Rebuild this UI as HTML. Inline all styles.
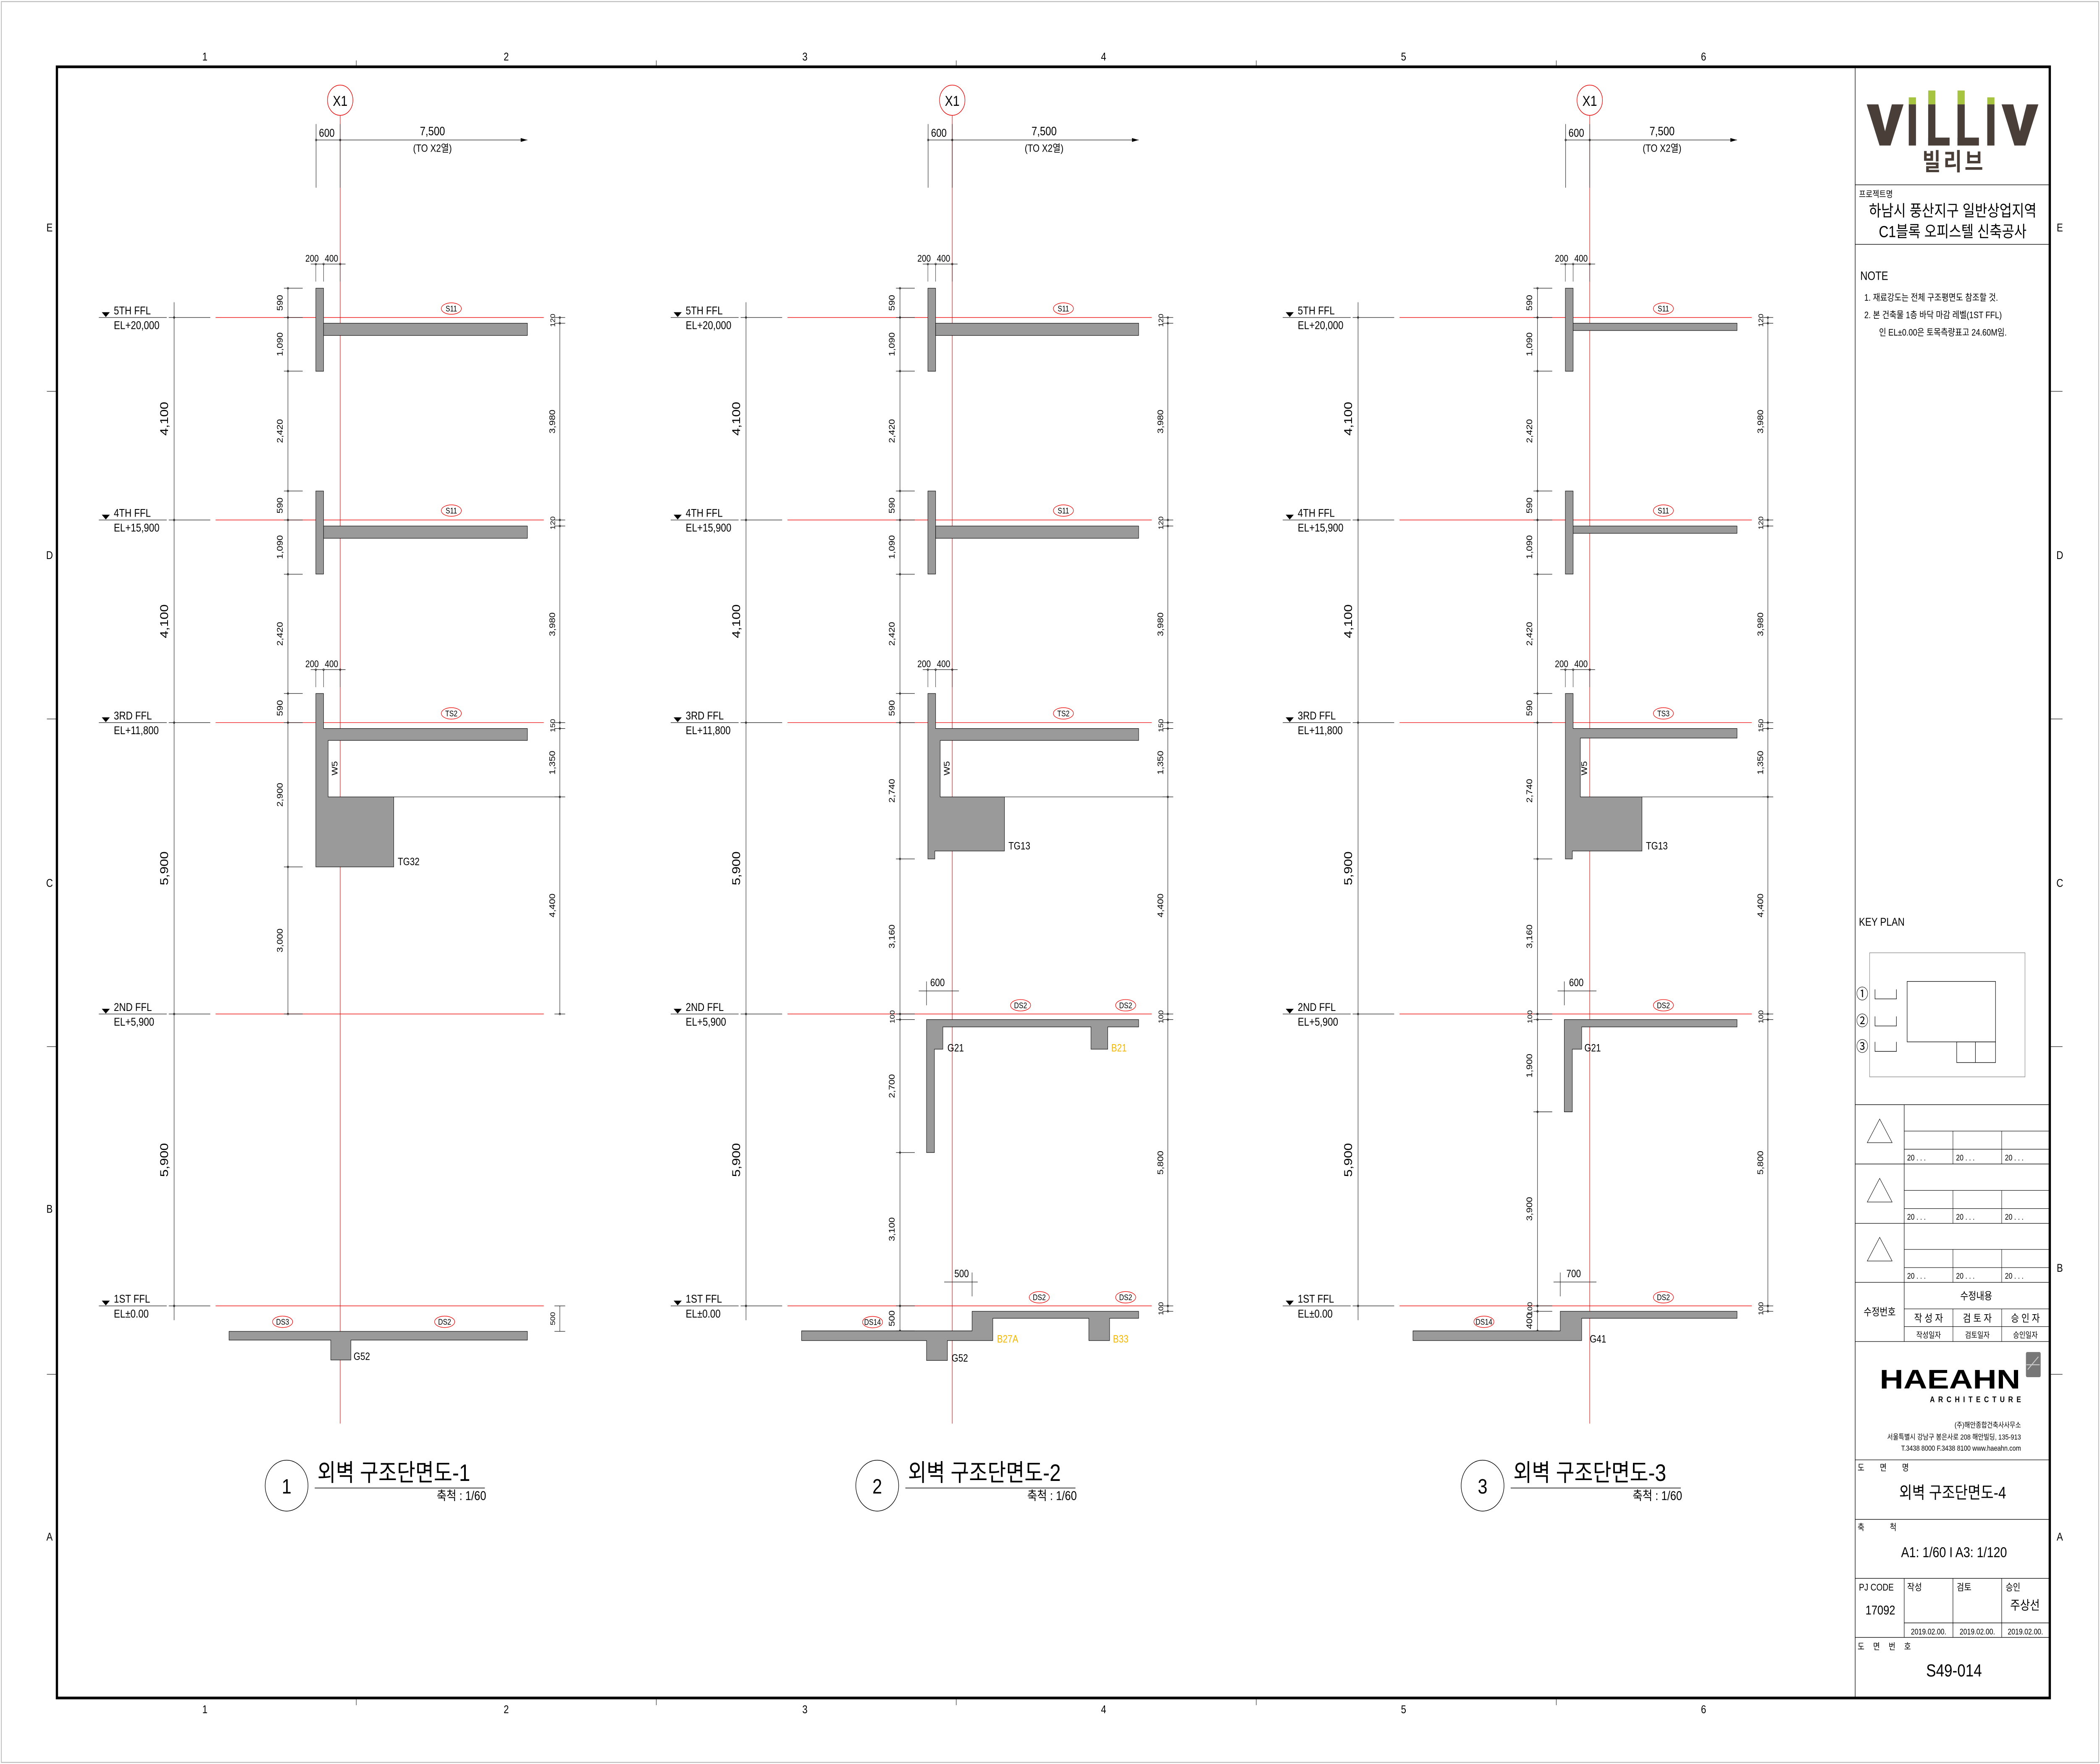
<!DOCTYPE html>
<html><head><meta charset="utf-8"><title>외벽 구조단면도-4</title>
<style>
html,body{margin:0;padding:0;background:#fff;width:100%;height:100%;overflow:hidden;}
svg#dwg{display:block;position:fixed;left:0;top:0;width:100vw;height:100vh;}
text{font-family:"Liberation Sans Narrow","Liberation Sans","Noto Sans CJK KR",sans-serif;fill:#000;}
.k{font-family:"Liberation Sans","Noto Sans CJK KR",sans-serif;}
</style></head>
<body>
<svg id="dwg" xmlns="http://www.w3.org/2000/svg" viewBox="0 0 1568 1109" preserveAspectRatio="none">
<rect x="0" y="0" width="1568" height="1109" fill="#fff"/>
<rect x="1" y="1" width="1566" height="1107" fill="none" stroke="#bbb" stroke-width="0.6"/>
<rect x="42.5" y="42" width="1488" height="1025.5" fill="none" stroke="#000" stroke-width="1.7"/>
<line x1="1385.2" y1="42" x2="1385.2" y2="1067" stroke="#000" stroke-width="0.4"/>
<g id="grid"></g>
<g id="sections"></g>

<g>
 <g fill="#4a3f38">
  <polygon points="1393.8,65.6 1402.5,65.6 1407.5,82.5 1412.6,65.6 1421.3,65.6 1411.6,91.5 1403.4,91.5"/>
  <rect x="1425.2" y="65.6" width="5.4" height="25.9"/>
  <rect x="1439.7" y="65.6" width="5.4" height="25.9"/><rect x="1439.7" y="86.5" width="16" height="5"/>
  <rect x="1461.6" y="65.6" width="5.4" height="25.9"/><rect x="1461.6" y="86.5" width="16" height="5"/>
  <rect x="1483.8" y="65.6" width="5.4" height="25.9"/>
  <polygon points="1494.5,65.6 1503.2,65.6 1508.2,82.5 1513.3,65.6 1522,65.6 1512.3,91.5 1504.1,91.5"/>
  <g fill="#a6c440"><rect x="1425.2" y="61.2" width="5.4" height="4.4"/><rect x="1439.7" y="56.9" width="5.4" height="8.7"/><rect x="1461.6" y="56.9" width="5.4" height="8.7"/><rect x="1483.8" y="61.2" width="5.4" height="4.4"/></g>
  <text class="k" x="1459" y="107" font-size="15" font-weight="bold" text-anchor="middle" style="fill:#4a3f38" letter-spacing="2">빌리브</text>
 </g>
 <line x1="1385" y1="116.2" x2="1530" y2="116.2" stroke="#000" stroke-width="0.35"/>
 <text class="k" x="1388" y="124" font-size="5.5">프로젝트명</text>
 <text class="k" x="1458" y="136" font-size="10" text-anchor="middle">하남시 풍산지구 일반상업지역</text>
 <text class="k" x="1458" y="149" font-size="10" text-anchor="middle">C1블록 오피스텔 신축공사</text>
 <line x1="1385" y1="153.6" x2="1530" y2="153.6" stroke="#000" stroke-width="0.35"/>
 <text class="k" x="1389" y="176" font-size="7.5">NOTE</text>
 <text class="k" x="1392" y="189" font-size="5.8">1.  재료강도는 전체 구조평면도 참조할 것.</text>
 <text class="k" x="1392" y="200" font-size="5.8">2.  본 건축물 1층 바닥 마감 레벨(1ST FFL)</text>
 <text class="k" x="1403" y="211" font-size="5.8">인 EL±0.00은 토목측량표고 24.60M임.</text>
 <text class="k" x="1388" y="582" font-size="7">KEY PLAN</text>
 <g fill="none" stroke="#000" stroke-width="0.35">
  <rect x="1396" y="599" width="116" height="78" stroke="#888"/>
  <rect x="1424" y="617" width="66" height="38"/>
  <rect x="1461" y="655" width="29" height="13"/>
  <line x1="1475" y1="655" x2="1475" y2="668"/>
  <path d="M1400 622 v6 h16 v-6 M1400 639 v6 h16 v-6 M1400 655 v6 h16 v-6"/>
 </g>
 <text class="k" x="1386" y="628" font-size="9">①</text>
 <text class="k" x="1386" y="645" font-size="9">②</text>
 <text class="k" x="1386" y="661" font-size="9">③</text>
 <g id="rev"></g>
 <g>
  <text class="k" x="1456" y="873" font-size="17" font-weight="bold" text-anchor="middle" textLength="105" lengthAdjust="spacingAndGlyphs">HAEAHN</text>
  <text class="k" x="1475" y="881.5" font-size="5" font-weight="bold" text-anchor="middle" textLength="68" lengthAdjust="spacing">ARCHITECTURE</text>
  <rect x="1512.7" y="850" width="11" height="15.8" rx="1" fill="#777"/>
  <path d="M1514 861 L1522 853 M1513 858 h10" stroke="#ccc" stroke-width="0.6"/>
 </g>
 <text class="k" x="1509" y="897.5" font-size="4.6" text-anchor="end">(주)해안종합건축사사무소</text>
 <text class="k" x="1509" y="905" font-size="4.6" text-anchor="end">서울특별시 강남구 봉은사로 208 해안빌딩, 135-913</text>
 <text class="k" x="1509" y="912" font-size="4.6" text-anchor="end">T.3438 8000  F.3438 8100 www.haeahn.com</text>
 <line x1="1385" y1="917.8" x2="1530" y2="917.8" stroke="#000" stroke-width="0.35"/>
 <text class="k" x="1387" y="924.5" font-size="5.5" letter-spacing="5">도 면 명</text>
 <text class="k" x="1458" y="942" font-size="10.5" text-anchor="middle">외벽 구조단면도-4</text>
 <line x1="1385" y1="955.2" x2="1530" y2="955.2" stroke="#000" stroke-width="0.35"/>
 <text class="k" x="1387" y="962" font-size="5.5">축</text><text class="k" x="1411" y="962" font-size="5.5">척</text>
 <text class="k" x="1459" y="979" font-size="9" text-anchor="middle">A1: 1/60  I  A3: 1/120</text>
 <g stroke="#000" stroke-width="0.35">
  <line x1="1385" y1="992.3" x2="1530" y2="992.3"/>
  <line x1="1421.8" y1="992.3" x2="1421.8" y2="1029.4"/>
  <line x1="1458.2" y1="992.3" x2="1458.2" y2="1029.4"/>
  <line x1="1494.6" y1="992.3" x2="1494.6" y2="1029.4"/>
  <line x1="1421.8" y1="1020.3" x2="1530" y2="1020.3"/>
  <line x1="1385" y1="1029.4" x2="1530" y2="1029.4"/>
 </g>
 <text class="k" x="1388" y="1000" font-size="6">PJ CODE</text>
 <text class="k" x="1404" y="1015" font-size="8" text-anchor="middle">17092</text>
 <text class="k" x="1424" y="1000" font-size="6">작성</text>
 <text class="k" x="1461" y="1000" font-size="6">검토</text>
 <text class="k" x="1497.5" y="1000" font-size="6">승인</text>
 <text class="k" x="1512" y="1012" font-size="8" text-anchor="middle">주상선</text>
 <text class="k" x="1440" y="1027.5" font-size="5" text-anchor="middle">2019.02.00.</text>
 <text class="k" x="1476.4" y="1027.5" font-size="5" text-anchor="middle">2019.02.00.</text>
 <text class="k" x="1512.3" y="1027.5" font-size="5" text-anchor="middle">2019.02.00.</text>
 <text class="k" x="1387" y="1037" font-size="5.5" letter-spacing="2.5">도 면 번 호</text>
 <text class="k" x="1459" y="1054" font-size="11" text-anchor="middle">S49-014</text>
</g>

<script>
var NS='http://www.w3.org/2000/svg';
function add(parent,tag,attrs,name,txt){
  var el=document.createElementNS(NS,tag);
  for(var k in attrs){el.setAttribute(k,attrs[k]);}
  
  
  if(txt!==undefined){el.textContent=txt;}
  parent.appendChild(el);
  return el;
}
var levelNames=['5TH FFL','4TH FFL','3RD FFL','2ND FFL','1ST FFL'];
var levelEls=['EL+20,000','EL+15,900','EL+11,800','EL+5,900','EL±0.00'];
var levelY=[199.6,326.9,454.3,637.5,821];
var storyDims=['4,100','4,100','5,900','5,900'];

var grid=document.getElementById('grid');
var colNums=['1','2','3','4','5','6'];
var colX=[153,378,601,824,1048,1272];
var rowLet=['E','D','C','B','A'];
var rowY=[143,349,555,760,966];
colNums.forEach(function(n,i){
  add(grid,'text',{x:colX[i],y:38,'font-size':7,'text-anchor':'middle'},'col-label-top',n);
  add(grid,'text',{x:colX[i],y:1077,'font-size':7,'text-anchor':'middle'},'col-label-bottom',n);
});
[266,490,714,938,1162].forEach(function(x){
  add(grid,'line',{x1:x,y1:38,x2:x,y2:42,stroke:'#000','stroke-width':0.3},'zone-tick');
  add(grid,'line',{x1:x,y1:1068,x2:x,y2:1072,stroke:'#000','stroke-width':0.3},'zone-tick');
});
rowLet.forEach(function(n,i){
  add(grid,'text',{x:37,y:rowY[i]+2.5,'font-size':7,'text-anchor':'middle'},'row-label-left',n);
  add(grid,'text',{x:1538,y:(i==3?797:rowY[i])+2.5,'font-size':7,'text-anchor':'middle'},'row-label-right',n);
});
[246,452,658,864].forEach(function(y){
  add(grid,'line',{x1:35,y1:y,x2:42,y2:y,stroke:'#000','stroke-width':0.3},'zone-tick');
  add(grid,'line',{x1:1531,y1:y,x2:1540,y2:y,stroke:'#000','stroke-width':0.3},'zone-tick');
});

var S=document.getElementById('sections');
var GRAY='#9a9a9a';
function ln(g,x1,y1,x2,y2,c,w,name){return add(g,'line',{x1:x1,y1:y1,x2:x2,y2:y2,stroke:c||'#000','stroke-width':w||0.3},name||'line');}
function tx(g,x,y,s,size,name,opts){
  var a={x:x,y:y,'font-size':size};
  if(opts){for(var k in opts)a[k]=opts[k];}
  return add(g,'text',a,name||'label',s);
}
function vtx(g,x,y,s,size,name){return add(g,'text',{x:x,y:y,'font-size':size,'text-anchor':'middle',transform:'rotate(-90 '+x+' '+y+')'},name||'dim-text',s);}
function tag(g,x,y,s){
  add(g,'ellipse',{cx:x,cy:y,rx:7.5,ry:3.6,fill:'none',stroke:'#e00','stroke-width':0.35},'member-tag-ellipse');
  tx(g,x,y+1.8,s,5,'member-tag',{'text-anchor':'middle'});
}
function tick(g,x,y){add(g,'circle',{cx:x,cy:y,r:0.6,fill:'none',stroke:'#000','stroke-width':0.25},'dim-tick');}
function poly(g,pts,name){return add(g,'polygon',{points:pts.join(' '),fill:GRAY,stroke:'#000','stroke-width':0.3},name);}

var sections=[
 {L:0,O:0,end:393.8,rd:418,slabT:7.7,n:'1',
  inner:[181.2,199.6,233.3,308.7,326.9,361,436,454.3,545,637.5],
  innerT:['590','1,090','2,420','590','1,090','2,420','590','2,900','3,000'],
  right:[199.6,203.2,326.9,330.7,454.3,458,501,637.5],
  rightT:['120','3,980','120','3,980','150','1,350','4,400'],
  right1:[821,837],right1T:['500'],
  tags:[[337,194,'S11'],[337,321,'S11'],[337,448.5,'TS2'],[211,831,'DS3'],[332,831,'DS2']],
  beamLabel:[297,544,'TG32'],beamR:294},
 {L:427,O:457,end:850.2,rd:872,slabT:7.7,n:'2',
  inner:[181.2,199.6,233.3,308.7,326.9,361,436,454.3,540,637.5,641,724.6,821,836.7],
  innerT:['590','1,090','2,420','590','1,090','2,420','590','2,740','3,160','100','2,700','3,100','500'],
  right:[199.6,203.2,326.9,330.7,454.3,458,501,637.5,641,821,824.4],
  rightT:['120','3,980','120','3,980','150','1,350','4,400','100','5,800','100'],
  right1:[],right1T:[],
  tags:[[794,194,'S11'],[794,321,'S11'],[794,448.5,'TS2'],[762,632,'DS2'],[840.5,632,'DS2'],[776,815.6,'DS2'],[840.5,815.6,'DS2'],[651.5,831.2,'DS14']],
  beamLabel:[753,534,'TG13'],beamR:750},
 {L:884,O:933,end:1297,rd:1320,slabT:4.6,n:'3',
  inner:[181.2,199.6,233.3,308.7,326.9,361,436,454.3,540,637.5,641,699,821,824.4,836.7],
  innerT:['590','1,090','2,420','590','1,090','2,420','590','2,740','3,160','100','1,900','3,900','100','400'],
  right:[199.6,203.2,326.9,330.7,454.3,458,501,637.5,641,821,824.4],
  rightT:['120','3,980','120','3,980','150','1,350','4,400','100','5,800','100'],
  right1:[],right1T:[],
  tags:[[1242,194,'S11'],[1242,321,'S11'],[1242,448.5,'TS3'],[1242,632,'DS2'],[1242,815.6,'DS2'],[1108,831,'DS14']],
  beamLabel:[1229,534,'TG13'],beamR:1226}
];

sections.forEach(function(sc,si){
  var g=add(S,'g',{},'section-'+sc.n);
  var L=sc.L,O=sc.O,X1=O+254,wl=O+235.8,wr=O+241.6;
  ln(g,X1,72.5,X1,895,'#e00',0.35,'grid-line-x1');
  add(g,'circle',{cx:X1,cy:63,r:9.5,fill:'#fff',stroke:'#e00','stroke-width':0.4},'grid-bubble-x1');
  tx(g,X1,66.5,'X1',9,'grid-bubble-label',{'text-anchor':'middle'});
  ln(g,O+236,88,sc.end,88,'#000',0.3,'dim-line-7500');
  add(g,'polygon',{points:(sc.end)+',88 '+(sc.end-5)+',86.8 '+(sc.end-5)+',89.2',fill:'#000'},'dim-arrow');
  ln(g,O+236,78,O+236,118,'#000',0.3,'extension-line');
  ln(g,X1,78,X1,118,'#000',0.3,'extension-line');
  tick(g,O+236,88);tick(g,X1,88);
  tx(g,O+244,86,'600',7,'dim-text-600',{'text-anchor':'middle'});
  tx(g,(X1+sc.end)/2-1,85,'7,500',7.5,'dim-text-7500',{'text-anchor':'middle'});
  tx(g,(X1+sc.end)/2-1,95.5,'(TO X2열)',6.5,'dim-text-to-x2',{'text-anchor':'middle'});
  levelY.forEach(function(y,i){
    add(g,'polygon',{points:(L+76)+','+(y-3.3)+' '+(L+82)+','+(y-3.3)+' '+(L+79)+','+(y-0.3),fill:'#000'},'level-marker');
    ln(g,L+73.8,y,L+124.5,y,'#000',0.3,'level-underline');
    tx(g,L+85,y-2,levelNames[i],7,'level-name');
    tx(g,L+85,y+7.3,levelEls[i],7,'level-elevation');
    ln(g,L+126,y,L+157,y,'#000',0.3,'level-line');
    ln(g,L+161,y,sc.rd-12,y,'#e00',0.35,'level-line-red');
    tick(g,L+130,y);
  });
  ln(g,L+130,190,L+130,830,'#000',0.3,'story-dim-line');
  storyDims.forEach(function(t,i){vtx(g,L+125.5,(levelY[i]+levelY[i+1])/2,t,8.5,'story-dim-text');});
  var ix=O+215;
  ln(g,ix,sc.inner[0],ix,sc.inner[sc.inner.length-1],'#000',0.3,'inner-dim-line');
  sc.inner.forEach(function(y){ln(g,ix-3,y,ix+11,y,'#000',0.3,'inner-dim-ext');tick(g,ix,y);});
  sc.innerT.forEach(function(t,i){var y=(sc.inner[i]+sc.inner[i+1])/2;vtx(g,ix-4,y,t,(sc.inner[i+1]-sc.inner[i]<12?5:6),'inner-dim-text');});
  var rx=sc.rd;
  ln(g,rx,sc.right[0],rx,sc.right[sc.right.length-1],'#000',0.3,'right-dim-line');
  sc.right.forEach(function(y){ln(g,rx-4,y,rx+4,y,'#000',0.3,'right-dim-ext');tick(g,rx,y);});
  sc.rightT.forEach(function(t,i){var y=(sc.right[i]+sc.right[i+1])/2;vtx(g,rx-3.5,y,t,(sc.right[i+1]-sc.right[i]<12?5:6),'right-dim-text');});
  if(sc.right1.length){
    ln(g,rx,sc.right1[0],rx,sc.right1[1],'#000',0.3,'right-dim-line');
    sc.right1.forEach(function(y){ln(g,rx-4,y,rx+4,y,'#000',0.3,'right-dim-ext');});
    vtx(g,rx-3.5,(sc.right1[0]+sc.right1[1])/2,sc.right1T[0],5,'right-dim-text');
  }
  ln(g,sc.beamR,501,rx,501,'#000',0.25,'beam-bottom-line');
  [166,421].forEach(function(y){
    ln(g,O+232,y,O+258,y,'#000',0.3,'dim-line-200-400');
    [wl,wr,X1].forEach(function(x){ln(g,x,y,x,y+11,'#000',0.25,'extension-line');tick(g,x,y);});
    tx(g,O+233,y-1.5,'200',6,'dim-text-200',{'text-anchor':'middle'});
    tx(g,O+247.5,y-1.5,'400',6,'dim-text-400',{'text-anchor':'middle'});
  });
  [[181.2,203.2],[308.7,330.7]].forEach(function(p){
    add(g,'rect',{x:wl,y:p[0],width:wr-wl,height:52.2,fill:GRAY,stroke:'#000','stroke-width':0.3},'parapet-wall');
    add(g,'rect',{x:wr,y:p[1],width:sc.end-wr,height:sc.slabT,fill:GRAY,stroke:'#000','stroke-width':0.3},'slab');
  });
  sc.tags.forEach(function(t){tag(g,t[0],t[1],t[2]);});
  tx(g,sc.beamLabel[0],sc.beamLabel[1],sc.beamLabel[2],6.5,'beam-label');
  vtx(g,O+252,483,'W5',6,'wall-label');
  sections[si].g=g;
});

var g1=sections[0].g,g2=sections[1].g,g3=sections[2].g;
poly(g1,[[235.8,436],[241.6,436],[241.6,458],[393.8,458],[393.8,465.5],[245,465.5],[245,501],[294,501],[294,545],[235.8,545]],'wall-3rd-with-beam');
poly(g1,[[171,837],[393.8,837],[393.8,842.5],[262,842.5],[262,855],[247,855],[247,842.5],[171,842.5]],'slab-1st');
tx(g1,264,855,'G52',6.5,'beam-label');
poly(g2,[[692.8,436],[698.6,436],[698.6,458],[850.2,458],[850.2,465.5],[702,465.5],[702,501],[750,501],[750,535],[698,535],[698,540],[692.8,540]],'wall-3rd-with-beam');
poly(g2,[[691.8,641],[850.2,641],[850.2,645.6],[827.1,645.6],[827.1,659.6],[814.6,659.6],[814.6,645.6],[704,645.6],[704,659.6],[697.7,659.6],[697.7,724.6],[691.8,724.6]],'slab-2nd');
poly(g2,[[598.5,836.7],[725.8,836.7],[725.8,824.4],[850.2,824.4],[850.2,828.8],[828.5,828.8],[828.5,842.8],[813,842.8],[813,828.8],[741.3,828.8],[741.3,842.8],[707.4,842.8],[707.4,855.3],[691.8,855.3],[691.8,842.8],[598.5,842.8]],'slab-1st');
tx(g2,707.4,661,'G21',6.5,'beam-label');
tx(g2,829.7,661,'B21',6.5,'beam-label',{style:'fill:#f5b800'});
tx(g2,744.4,844,'B27A',6.5,'beam-label',{style:'fill:#f5b800'});
tx(g2,831,844,'B33',6.5,'beam-label',{style:'fill:#f5b800'});
tx(g2,710.5,856,'G52',6.5,'beam-label');
ln(g2,686,623,716,623,'#000',0.3,'dim-line-600');ln(g2,691.8,617,691.8,632,'#000',0.3,'extension-line');
tx(g2,700,620,'600',6.5,'dim-text-600',{'text-anchor':'middle'});
ln(g2,705,806,730,806,'#000',0.3,'dim-line-500');ln(g2,725.8,800,725.8,815,'#000',0.3,'extension-line');
tx(g2,718,803,'500',6.5,'dim-text-500',{'text-anchor':'middle'});
poly(g3,[[1168.8,436],[1174.6,436],[1174.6,458],[1297,458],[1297,464],[1180,464],[1180,501],[1226,501],[1226,535],[1174,535],[1174,540],[1168.8,540]],'wall-3rd-with-beam');
poly(g3,[[1168,641],[1297,641],[1297,645.6],[1181,645.6],[1181,659.6],[1174,659.6],[1174,699],[1168,699]],'slab-2nd');
poly(g3,[[1055,836.7],[1165,836.7],[1165,824.4],[1297,824.4],[1297,828.8],[1181,828.8],[1181,842.8],[1055,842.8]],'slab-1st');
tx(g3,1183,661,'G21',6.5,'beam-label');
tx(g3,1187,844,'G41',6.5,'beam-label');
ln(g3,1163,623,1192,623,'#000',0.3,'dim-line-600');ln(g3,1168,617,1168,632,'#000',0.3,'extension-line');
tx(g3,1177,620,'600',6.5,'dim-text-600',{'text-anchor':'middle'});
ln(g3,1160,806,1192,806,'#000',0.3,'dim-line-700');ln(g3,1165,800,1165,815,'#000',0.3,'extension-line');
tx(g3,1175,803,'700',6.5,'dim-text-700',{'text-anchor':'middle'});

var titleX=[214,655,1107];
var titleText=['외벽 구조단면도-1','외벽 구조단면도-2','외벽 구조단면도-3'];
titleX.forEach(function(x,i){
  var tg=add(S,'g',{},'section-title-'+(i+1));
  add(tg,'circle',{cx:x,cy:934,r:16,fill:'none',stroke:'#000','stroke-width':0.4},'section-number-circle');
  tx(tg,x,939,String(i+1),13,'section-number',{'text-anchor':'middle','class':'k'});
  tx(tg,x+23,931,titleText[i],15,'section-title',{'class':'k'});
  ln(tg,x+21,935.5,x+148,935.5,'#000',0.4,'title-underline');
  tx(tg,x+149,943,'축척 : 1/60',8,'section-scale',{'text-anchor':'end','class':'k'});
});

var R=document.getElementById('rev');
var blocks=[694.5,731.8,768.9];
ln(R,1385,694.5,1530,694.5,'#000',0.35,'rev-line');
blocks.forEach(function(b){
  add(R,'polygon',{points:'1403.5,'+(b+9)+' 1394.2,'+(b+23.9)+' 1412.8,'+(b+23.9),fill:'none',stroke:'#000','stroke-width':0.3},'revision-triangle');
  ln(R,1421.8,b,1421.8,b+37.3,'#000',0.35,'rev-line');
  ln(R,1421.8,b+16.6,1530,b+16.6,'#000',0.3,'rev-line');
  ln(R,1421.8,b+28,1530,b+28,'#000',0.3,'rev-line');
  ln(R,1458.2,b+16.6,1458.2,b+37.3,'#000',0.3,'rev-line');
  ln(R,1494.6,b+16.6,1494.6,b+37.3,'#000',0.3,'rev-line');
  ln(R,1385,b+37.3,1530,b+37.3,'#000',0.35,'rev-line');
  [1424,1460.5,1497].forEach(function(x){tx(R,x,b+35,'20    .    .    .',5,'revision-date',{'class':'k'});});
});
ln(R,1421.8,806.3,1421.8,843.4,'#000',0.35,'rev-line');
ln(R,1421.8,822.9,1530,822.9,'#000',0.3,'rev-line');
ln(R,1421.8,834,1530,834,'#000',0.3,'rev-line');
ln(R,1458.2,822.9,1458.2,843.4,'#000',0.3,'rev-line');
ln(R,1494.6,822.9,1494.6,843.4,'#000',0.3,'rev-line');
ln(R,1385,843.4,1530,843.4,'#000',0.35,'rev-line');
tx(R,1403.5,827,'수정번호',6.5,'revision-no-header',{'text-anchor':'middle','class':'k'});
tx(R,1475.6,817,'수정내용',6.5,'revision-content-header',{'text-anchor':'middle','class':'k'});
tx(R,1440,831,'작 성 자',6.5,'drawn-by',{'text-anchor':'middle','class':'k'});
tx(R,1476.4,831,'검 토 자',6.5,'checked-by',{'text-anchor':'middle','class':'k'});
tx(R,1512.3,831,'승 인 자',6.5,'approved-by',{'text-anchor':'middle','class':'k'});
tx(R,1440,841,'작성일자',5,'drawn-date',{'text-anchor':'middle','class':'k'});
tx(R,1476.4,841,'검토일자',5,'checked-date',{'text-anchor':'middle','class':'k'});
tx(R,1512.3,841,'승인일자',5,'approved-date',{'text-anchor':'middle','class':'k'});
</script>
</svg>
</body></html>
